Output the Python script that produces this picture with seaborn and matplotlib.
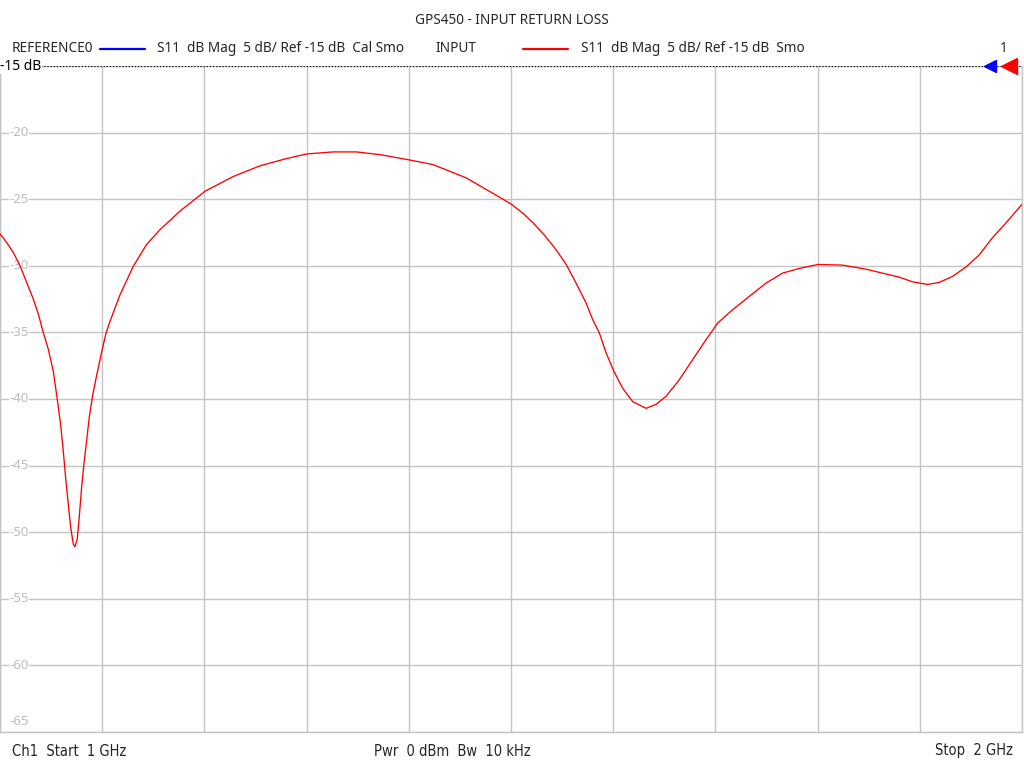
import matplotlib

matplotlib.use("Agg")

import matplotlib.pyplot as plt
import matplotlib.transforms as mtransforms
import pandas as pd
import seaborn as sns

TITLE = "GPS450 - INPUT RETURN LOSS"
Y_TICKS = [-20, -25, -30, -35, -40, -45, -50, -55, -60, -65]
REF_LEVEL = -15

# frequency in GHz, S11 in dB
FREQ_GHZ = [
    1.0000, 1.0065, 1.0130, 1.0196, 1.0261, 1.0326, 1.0374, 1.0423, 1.0472, 1.0521,
    1.0560, 1.0593, 1.0619, 1.0642, 1.0668, 1.0691, 1.0717, 1.0733, 1.0756, 1.0775,
    1.0799, 1.0821, 1.0848, 1.0873, 1.0906, 1.0945, 1.0994, 1.1036, 1.1075, 1.1173,
    1.1303, 1.1434, 1.1564, 1.1760, 1.2007, 1.2281, 1.2542, 1.2803, 1.3004, 1.3258,
    1.3487, 1.3715, 1.4005, 1.4236, 1.4562, 1.4888, 1.5008, 1.5115, 1.5213, 1.5327,
    1.5442, 1.5540, 1.5637, 1.5735, 1.5800, 1.5865, 1.5931, 1.6005, 1.6093, 1.6191,
    1.6322, 1.6419, 1.6517, 1.6647, 1.6777, 1.6908, 1.7022, 1.7168, 1.7331, 1.7495,
    1.7657, 1.7820, 1.8003, 1.8243, 1.8472, 1.8634, 1.8798, 1.8928, 1.9074, 1.9189,
    1.9319, 1.9450, 1.9580, 1.9710, 1.9841, 1.9987, 2.0000,
]
S11_DB = [
    -27.6, -28.25, -29.0, -30.0, -31.25, -32.5, -33.6, -35.0, -36.25, -37.9,
    -40.0, -41.9, -43.9, -45.9, -47.9, -49.6, -50.9, -51.1, -50.5, -48.9,
    -46.6, -44.9, -43.1, -41.4, -39.75, -38.25, -36.5, -35.1, -34.2, -32.2,
    -30.05, -28.4, -27.3, -25.9, -24.4, -23.3, -22.5, -21.95, -21.6, -21.45,
    -21.45, -21.65, -22.05, -22.4, -23.4, -24.85, -25.4, -26.05, -26.75, -27.7,
    -28.8, -29.9, -31.3, -32.8, -34.05, -35.05, -36.55, -37.9, -39.2, -40.2,
    -40.7, -40.4, -39.8, -38.55, -37.05, -35.55, -34.3, -33.3, -32.3, -31.3,
    -30.55, -30.2, -29.9, -29.95, -30.25, -30.55, -30.85, -31.2, -31.4, -31.25,
    -30.8, -30.1, -29.2, -27.9, -26.8, -25.5, -25.4,
]

sns.set_style("white")
plt.rcParams["font.family"] = ["Noto Sans", "DejaVu Sans"]
HEAD_SIZE = 9.8

df = pd.DataFrame({"freq": FREQ_GHZ, "s11": S11_DB})

fig = plt.figure(figsize=(10.24, 7.68), dpi=100)
ax = fig.add_axes([0.0, 36 / 768, 1022 / 1024, 666 / 768])

sns.lineplot(data=df, x="freq", y="s11", color="#ff0000", linewidth=0.95, ax=ax, zorder=4)

ax.set_xlim(1.0, 2.0)
ax.set_ylim(-65, -15)
ax.set_xticks([1.0 + i * 0.1 for i in range(11)])
ax.set_yticks(Y_TICKS + [REF_LEVEL])
ax.grid(True, color="#c4c4c4", linewidth=1.0)
ax.tick_params(left=False, bottom=False, labelleft=False, labelbottom=False)
ax.set_xlabel("")
ax.set_ylabel("")
for side in ["left", "right", "bottom"]:
    ax.spines[side].set_color("#c4c4c4")
    ax.spines[side].set_linewidth(1.0)
ax.spines["top"].set_visible(False)

# reference line
ax.axhline(REF_LEVEL, color="black", linestyle=(0, (1, 1.5)), linewidth=0.9, zorder=3)

trans = mtransforms.blended_transform_factory(ax.transAxes, ax.transData)
for v in Y_TICKS:
    va = "bottom" if v == -65 else "center"
    ax.text(0.009, v + (0.3 if v == -65 else 0), str(v), transform=trans, color="#bdbdbd",
            fontsize=9.5, ha="left", va=va, zorder=1,
            bbox=dict(facecolor="white", edgecolor="none", pad=0.5))
ax.text(0.0, REF_LEVEL, "-15 dB", transform=trans, color="black", fontsize=10,
        ha="left", va="center", zorder=5,
        bbox=dict(facecolor="white", edgecolor="none", pad=0.3), clip_on=False)

# reference markers
ax.plot([990 / 1022], [REF_LEVEL], marker="<", color="#0000ff", markersize=8,
        transform=trans, clip_on=False, zorder=6)
ax.plot([1009 / 1022], [REF_LEVEL], marker="<", color="#ff0000", markersize=11,
        transform=trans, clip_on=False, zorder=6)

# header
fig.text(512 / 1024, 1 - 21 / 768, TITLE, ha="center", va="center", fontsize=HEAD_SIZE)
hy = 1 - 49 / 768
fig.text(12 / 1024, hy, "REFERENCE0", ha="left", va="center", fontsize=HEAD_SIZE)
fig.add_artist(plt.Line2D([100 / 1024, 145 / 1024], [hy, hy], color="#0000ff", linewidth=1.6))
fig.text(157 / 1024, hy, "S11  dB Mag  5 dB/ Ref -15 dB  Cal Smo", ha="left", va="center",
         fontsize=HEAD_SIZE)
fig.text(436 / 1024, hy, "INPUT", ha="left", va="center", fontsize=HEAD_SIZE)
fig.add_artist(plt.Line2D([523 / 1024, 568 / 1024], [hy, hy], color="#ff0000", linewidth=1.6))
fig.text(581 / 1024, hy, "S11  dB Mag  5 dB/ Ref -15 dB  Smo", ha="left", va="center",
         fontsize=HEAD_SIZE)
fig.text(1004 / 1024, hy, "1", ha="center", va="center", fontsize=HEAD_SIZE)

# footer
fy = 1 - 751 / 768
foot = dict(va="center", fontsize=10.5, family="DejaVu Sans", fontstretch="condensed")
fig.text(12 / 1024, fy, "Ch1  Start  1 GHz", ha="left", **foot)
fig.text(452 / 1024, fy, "Pwr  0 dBm  Bw  10 kHz", ha="center", **foot)
fig.text(1013 / 1024, fy, "Stop  2 GHz", ha="right", **foot)

fig.savefig("out.png", dpi=100, facecolor="white")
plt.close(fig)
